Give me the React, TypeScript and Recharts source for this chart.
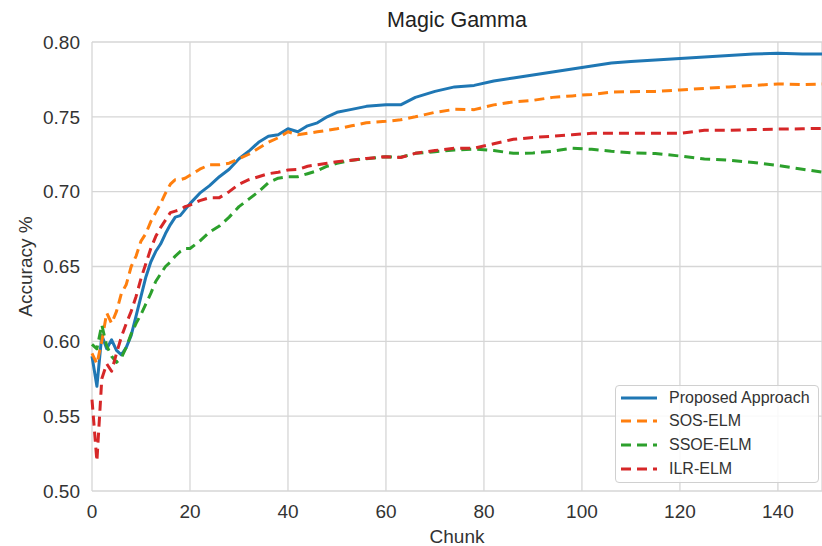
import React from 'react';
import { LineChart, Line, XAxis, YAxis, CartesianGrid, Legend } from 'recharts';

const chunks = [0,1,2,3,4,5,6,7,8,9,10,11,12,13,14,15,16,17,18,19,20,22,24,26,28,30,32,34,36,38,40,42,44,46,48,50,53,56,60,63,66,70,74,78,82,86,90,94,98,102,106,110,115,120,125,130,135,140,145,149];

const proposed = [0.590,0.570,0.604,0.595,0.601,0.594,0.591,0.596,0.604,0.617,0.630,0.643,0.653,0.660,0.665,0.672,0.678,0.683,0.684,0.688,0.692,0.699,0.704,0.710,0.715,0.722,0.727,0.733,0.737,0.738,0.742,0.740,0.744,0.746,0.750,0.753,0.755,0.757,0.758,0.758,0.763,0.767,0.770,0.771,0.774,0.776,0.778,0.780,0.782,0.784,0.786,0.787,0.788,0.789,0.790,0.791,0.792,0.7925,0.792,0.792];

const sosElm = [0.592,0.585,0.600,0.619,0.612,0.620,0.632,0.638,0.650,0.657,0.667,0.672,0.680,0.686,0.692,0.699,0.705,0.708,0.708,0.709,0.711,0.715,0.718,0.718,0.719,0.722,0.725,0.729,0.733,0.736,0.740,0.738,0.739,0.740,0.741,0.742,0.744,0.746,0.747,0.748,0.750,0.753,0.755,0.7548,0.758,0.760,0.761,0.763,0.764,0.765,0.7665,0.7668,0.767,0.768,0.769,0.770,0.771,0.772,0.7715,0.772];

const ssoeElm = [0.598,0.595,0.611,0.597,0.590,0.586,0.589,0.596,0.605,0.612,0.618,0.625,0.632,0.640,0.645,0.650,0.653,0.657,0.660,0.662,0.662,0.667,0.673,0.677,0.683,0.690,0.695,0.700,0.706,0.709,0.710,0.710,0.712,0.714,0.717,0.719,0.721,0.722,0.7234,0.723,0.7256,0.7267,0.7278,0.7285,0.7275,0.7256,0.7258,0.727,0.729,0.7283,0.727,0.726,0.7255,0.7238,0.7218,0.721,0.7195,0.7175,0.715,0.713];

const ilrElm = [0.561,0.520,0.575,0.585,0.580,0.592,0.603,0.612,0.620,0.630,0.642,0.652,0.662,0.670,0.676,0.681,0.686,0.687,0.688,0.690,0.691,0.694,0.696,0.696,0.700,0.705,0.708,0.710,0.712,0.713,0.7145,0.7148,0.717,0.718,0.719,0.720,0.721,0.7222,0.7234,0.7228,0.7256,0.7275,0.729,0.729,0.732,0.735,0.7362,0.737,0.738,0.739,0.739,0.739,0.739,0.739,0.741,0.741,0.7415,0.7418,0.742,0.7423];

const xTicks = [0, 20, 40, 60, 80, 100, 120, 140];
const yTicks = [0.5, 0.55, 0.6, 0.65, 0.7, 0.75, 0.8];

const seriesNames = ['Proposed Approach', 'SOS-ELM', 'SSOE-ELM', 'ILR-ELM'];
const seriesKeys = ['proposed', 'sos', 'ssoe', 'ilr'];
const seriesColors = ['#1f77b4', '#ff7f0e', '#2ca02c', '#d62728'];
const seriesDashes = ['', '10 6', '10 6', '10 6'];

const data = chunks.map((c, i) => ({
  chunk: c,
  proposed: proposed[i],
  sos: sosElm[i],
  ssoe: ssoeElm[i],
  ilr: ilrElm[i],
}));

const FONT = '"Liberation Sans", Arial, Helvetica, sans-serif';

const renderLegend = () => (
  <div
    style={{
      width: 202,
      height: 96,
      border: '1px solid #d0d0d0',
      borderRadius: 4,
      background: 'rgba(255,255,255,0.85)',
      fontFamily: FONT,
      fontSize: 16,
      color: '#333',
      boxSizing: 'content-box',
    }}
  >
    {seriesNames.map((n, i) => (
      <div key={n} style={{ height: 23.6, display: 'flex', alignItems: 'center' }}>
        <svg width={36} height={6} style={{ marginLeft: 5, marginRight: 12, display: 'block' }}>
          <line x1={0} y1={3} x2={36} y2={3} stroke={seriesColors[i]} strokeWidth={3} strokeDasharray={seriesDashes[i] || undefined} />
        </svg>
        <span style={{ lineHeight: '18px' }}>{n}</span>
      </div>
    ))}
  </div>
);

const YLabel = (props: any) => {
  const vb = props.viewBox || {};
  const cx = 25;
  const cy = (vb.y || 0) + (vb.height || 0) / 2;
  return (
    <text x={cx} y={cy} transform={`rotate(-90, ${cx}, ${cy})`} textAnchor="middle" dominantBaseline="central" fill="#333" fontSize={19} fontFamily={FONT}>
      Accuracy %
    </text>
  );
};

const XLabel = (props: any) => {
  const vb = props.viewBox || {};
  const cx = (vb.x || 0) + (vb.width || 0) / 2;
  return (
    <text x={cx} y={543} textAnchor="middle" fill="#333" fontSize={19} fontFamily={FONT}>
      Chunk
    </text>
  );
};

export default function App() {
  return (
    <div style={{ position: 'absolute', left: 0, top: 0, width: 822, height: 546, background: '#fff' }}>
      <LineChart width={822} height={546} data={data} margin={{ top: 42, right: 0, bottom: 0, left: 0 }}>
        <CartesianGrid stroke="#d6d6d6" strokeWidth={1.3} />
        <XAxis
          dataKey="chunk"
          type="number"
          domain={[0, 149]}
          ticks={xTicks}
          height={55}
          axisLine={false}
          tickLine={false}
          tickMargin={8}
          tick={{ fill: '#333', fontSize: 19, fontFamily: FONT }}
          label={<XLabel />}
        />
        <YAxis
          type="number"
          domain={[0.5, 0.8]}
          ticks={yTicks}
          width={92}
          axisLine={false}
          tickLine={false}
          tickMargin={6}
          tickFormatter={(v: number) => v.toFixed(2)}
          tick={{ fill: '#333', fontSize: 19, fontFamily: FONT }}
          label={<YLabel />}
        />
        {seriesKeys.map((k, i) => (
          <Line
            key={k}
            type="linear"
            dataKey={k}
            name={seriesNames[i]}
            stroke={seriesColors[i]}
            strokeWidth={3}
            strokeDasharray={seriesDashes[i] || undefined}
            strokeLinejoin="round"
            dot={false}
            activeDot={false}
            isAnimationActive={false}
          />
        ))}
        <Legend
          layout="vertical"
          align="center"
          verticalAlign="middle"
          content={renderLegend}
          wrapperStyle={{ position: 'absolute', left: 615, top: 385, width: 204, height: 98 }}
        />
      </LineChart>
      <svg width={822} height={40} style={{ position: 'absolute', left: 0, top: 0, pointerEvents: 'none' }}>
        <text x={457} y={27} textAnchor="middle" fill="#222" fontSize={21.5} fontFamily={FONT}>
          Magic Gamma
        </text>
      </svg>
    </div>
  );
}
